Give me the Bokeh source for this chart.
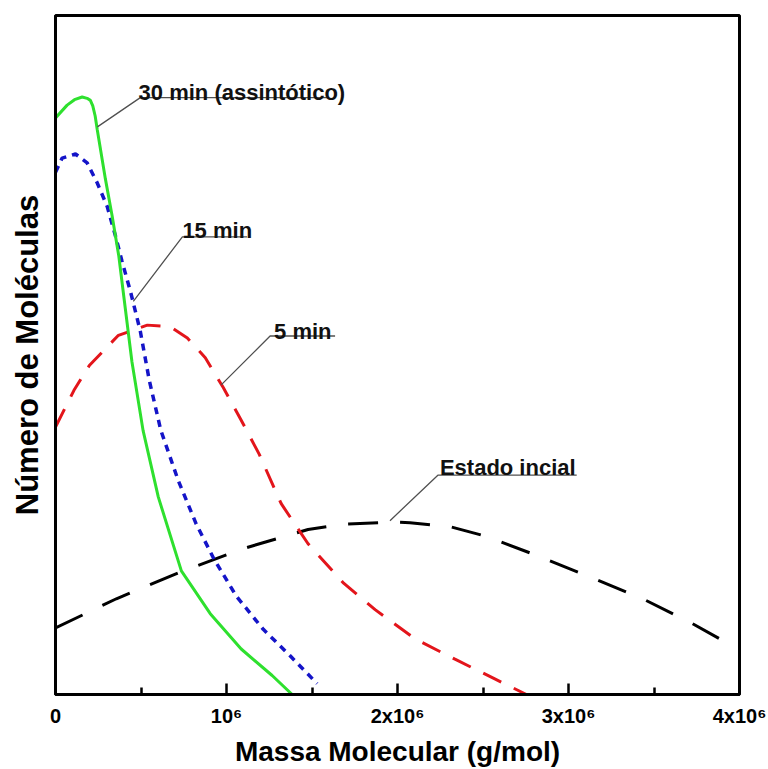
from bokeh.plotting import figure
from bokeh.models import Range1d, FixedTicker, CustomJSTickFormatter
from bokeh.embed import file_html
from bokeh.resources import INLINE
from bokeh.core.properties import value

# x in units of 10^6 g/mol, y = number of molecules (arbitrary units, 0-100)
SCALE = 1e6

green_x = [0.0, 0.068, 0.111, 0.156, 0.185, 0.204, 0.218, 0.232, 0.244, 0.292, 0.331,
           0.370, 0.400, 0.447, 0.512, 0.601, 0.736, 0.905, 1.086, 1.267, 1.384]
green_y = [84.9, 86.8, 87.6, 88.0, 87.8, 87.5, 86.7, 85.2, 83.2, 75.9, 70.5,
           64.6, 58.5, 49.0, 38.9, 29.1, 18.2, 11.9, 6.7, 2.8, 0.0]

blue_x = [0.0, 0.039, 0.117, 0.185, 0.243, 0.302, 0.350, 0.389, 0.438, 0.496, 0.549,
          0.616, 0.718, 0.823, 0.928, 1.057, 1.215, 1.372, 1.530]
blue_y = [76.9, 79.0, 79.6, 78.3, 75.4, 71.9, 67.6, 63.8, 59.4, 53.5, 46.2,
          38.9, 31.5, 25.1, 19.9, 14.5, 9.6, 5.7, 1.6]

red_x = [0.0, 0.108, 0.199, 0.368, 0.537, 0.669, 0.771, 0.876, 0.981, 1.086, 1.191,
         1.320, 1.477, 1.685, 1.869, 2.102, 2.336, 2.569, 2.754]
red_y = [39.4, 44.8, 48.5, 52.9, 54.4, 54.2, 52.5, 49.6, 45.2, 40.4, 35.4,
         28.1, 22.2, 16.4, 12.5, 8.2, 5.2, 2.3, 0.0]

black_x = [0.0, 0.356, 0.718, 1.086, 1.477, 1.685, 1.972, 2.073, 2.311, 2.517, 2.780,
           3.118, 3.434, 3.720, 3.927]
black_y = [9.8, 14.1, 17.9, 21.4, 24.3, 25.1, 25.4, 25.3, 24.7, 23.3, 20.8,
           17.4, 14.1, 10.5, 7.6]

# curve labels and their leader lines
label_texts = ["30 min (assintótico)", "15 min", "5 min", "Estado incial"]
label_x = [0.486, 0.742, 1.278, 2.248]
label_y = [88.7, 68.3, 53.5, 33.5]
leader_tip_x = [0.245, 0.455, 0.969, 1.956]
leader_tip_y = [83.6, 57.9, 45.6, 25.6]
leader_knee_x = [0.496, 0.742, 1.255, 2.236]
leader_knee_y = [87.9, 67.4, 52.8, 32.3]
leader_end_x = [1.594, 1.121, 1.635, 3.048]

x_ticks = [0, 1, 2, 3, 4]
x_minor_ticks = [0.5, 1.5, 2.5, 3.5]
x_tick_labels = ["0", "10\u2076", "2x10\u2076", "3x10\u2076", "4x10\u2076"]

FONT = "Liberation Sans"

p = figure(width=768, height=769, output_backend="svg", toolbar_location=None,
           x_range=Range1d(0, 4 * SCALE), y_range=Range1d(0, 100),
           min_border_left=55, min_border_right=29, min_border_top=15, min_border_bottom=70)
p.background_fill_color = "white"
p.border_fill_color = "white"
p.outline_line_color = "black"
p.outline_line_width = 3
p.xgrid.visible = False
p.ygrid.visible = False

def sx(vals):
    return [v * SCALE for v in vals]

# curves
p.line(sx(black_x), black_y, line_color="black", line_width=3, line_dash="30 22")
p.line(sx(red_x), red_y, line_color="#e3151b", line_width=3, line_dash="20 14")
p.line(sx(blue_x), blue_y, line_color="#1414c8", line_width=3.5, line_dash="7 6")
p.line(sx(green_x), green_y, line_color="#2ee02e", line_width=3)

# leader lines
xs = [[a * SCALE, b * SCALE, c * SCALE] for a, b, c in zip(leader_tip_x, leader_knee_x, leader_end_x)]
ys = [[a, b, b] for a, b in zip(leader_tip_y, leader_knee_y)]
p.multi_line(xs, ys, line_color="#505050", line_width=1.3)

p.text(sx(label_x), label_y, text=label_texts, text_font=value(FONT), text_font_style="bold",
       text_font_size="22px", text_color="#111111", text_align="left", text_baseline="alphabetic")

# x axis
xa = p.xaxis[0]
xa.ticker = FixedTicker(ticks=sx(x_ticks), minor_ticks=sx(x_minor_ticks))
xa.formatter = CustomJSTickFormatter(args=dict(labels=x_tick_labels),
                                     code="return labels[Math.round(tick / 1e6)];")
xa.axis_line_width = 3
xa.major_tick_in = 11
xa.major_tick_out = 0
xa.major_tick_line_width = 2.5
xa.minor_tick_in = 7
xa.minor_tick_out = 0
xa.minor_tick_line_width = 2.5
xa.major_label_standoff = 10
xa.major_label_text_font = FONT
xa.major_label_text_font_style = "bold"
xa.major_label_text_font_size = "20px"
xa.major_label_text_color = "black"
xa.axis_label = "Massa Molecular (g/mol)"
xa.axis_label_text_font = FONT
xa.axis_label_text_font_style = "bold"
xa.axis_label_text_font_size = "28px"
xa.axis_label_text_color = "black"
xa.axis_label_standoff = 6

# y axis
ya = p.yaxis[0]
ya.ticker = FixedTicker(ticks=[])
ya.axis_line_width = 3
ya.major_tick_in = 0
ya.major_tick_out = 0
ya.minor_tick_in = 0
ya.minor_tick_out = 0
ya.major_label_standoff = 0
ya.axis_label = "Número de Moléculas"
ya.axis_label_text_font = FONT
ya.axis_label_text_font_style = "bold"
ya.axis_label_text_font_size = "31px"
ya.axis_label_text_color = "black"
ya.axis_label_standoff = 11

open("out.html", "w").write(file_html(p, INLINE))
